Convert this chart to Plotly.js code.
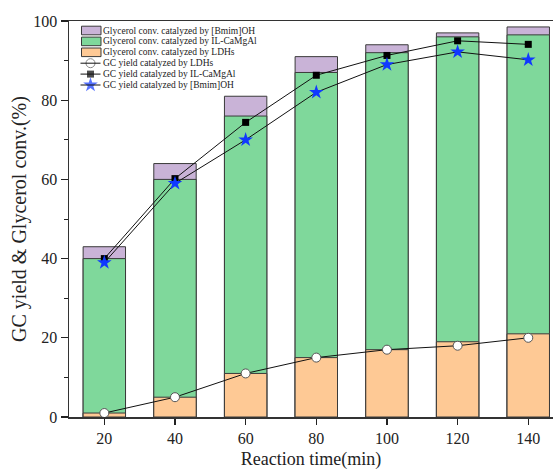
<!DOCTYPE html>
<html>
<head>
<meta charset="utf-8">
<script src="https://cdn.plot.ly/plotly-3.0.1.min.js"></script>
<style>html,body{margin:0;padding:0;background:#fff;}#chart{width:553px;height:470px;}</style>
</head>
<body>
<div id="chart"></div>
<script>
// ---- data ----
var times = [20, 40, 60, 80, 100, 120, 140];
var convBmim = [43, 64, 81, 91, 94, 97, 98.5];
var convIL = [40, 60, 76, 87, 92, 96, 96.5];
var convLDH = [1, 5, 11, 15, 17, 19, 21];
var yieldLDH = [1, 5, 11, 15, 17, 18, 20];
var yieldIL = [40, 60.2, 74.4, 86.3, 91.3, 95, 94.1];
var yieldBmim = [39, 59, 70, 82, 89, 92.2, 90.2];
var xTickVals = [20, 40, 60, 80, 100, 120, 140];
var yTickVals = [0, 20, 40, 60, 80, 100];
var legendLabels = [
  "Glycerol conv. catalyzed by [Bmim]OH",
  "Glycerol conv. catalyzed by IL-CaMgAl",
  "Glycerol conv. catalyzed by LDHs",
  "GC yield catalyzed by LDHs",
  "GC yield catalyzed by IL-CaMgAl",
  "GC yield catalyzed by [Bmim]OH"
];

var cPurple = "#c9b3d7", cGreen = "#7fd89b", cOrange = "#fec995", cStar = "#1038ff";
var barLine = {color: "#3a3a3a", width: 1};
var FONT = "Liberation Serif, Times New Roman, serif";

function bar(y, color) {
  return {type: "bar", x: times, y: y, width: 12, marker: {color: color, line: barLine},
          showlegend: false, hoverinfo: "skip"};
}
function line(y, marker) {
  return {type: "scatter", mode: "lines+markers", x: times, y: y,
          line: {color: "#111", width: 1}, marker: marker, showlegend: false, cliponaxis: false};
}

var mCircle = {symbol: "circle", size: 9, color: "#fff", line: {color: "#555", width: 1}};
var mSquare = {symbol: "square", size: 7, color: "#000", line: {width: 0}};
var mStar = {symbol: "star", size: 11, color: cStar, line: {width: 0}};

// plot area geometry (pixels) for the hand-built legend
var L = 69, T = 21, W = 553 - 69, H = 417 - 21;
function px(x) { return (x - L) / W; }
function py(y) { return (417 - y) / H; }

var rowsY = [30.5, 41.4, 52.3, 63.2, 74.1, 85];
var shapes = [];
var annotations = [];
[cPurple, cGreen, cOrange].forEach(function (c, i) {
  shapes.push({type: "rect", xref: "paper", yref: "paper",
    x0: px(81.5), x1: px(101), y0: py(rowsY[i] - 4.3), y1: py(rowsY[i] + 4.3),
    fillcolor: c, line: {color: "#3a3a3a", width: 1}});
});
for (var i = 3; i < 6; i++) {
  shapes.push({type: "line", xref: "paper", yref: "paper",
    x0: px(80.5), x1: px(100.5), y0: py(rowsY[i]), y1: py(rowsY[i]),
    line: {color: "#111", width: 1}});
}
legendLabels.forEach(function (t, i) {
  annotations.push({xref: "paper", yref: "paper", x: px(102), y: py(rowsY[i]),
    xanchor: "left", yanchor: "middle", showarrow: false, text: t, borderpad: 0,
    font: {family: FONT, size: 9.5, color: "#222"}});
});

var legendMarks = {type: "scatter", mode: "markers", xaxis: "x2", yaxis: "y2",
  x: [px(90.5), px(90.5), px(90.5)], y: [py(rowsY[3]), py(rowsY[4]), py(rowsY[5])],
  marker: {symbol: ["circle", "square", "star"], size: [9, 7, 11],
           color: ["#fff", "#000", cStar], line: {color: ["#555", "#000", cStar], width: [1, 0, 0]}},
  showlegend: false, hoverinfo: "skip"};

var data = [
  bar(convBmim, cPurple), bar(convIL, cGreen), bar(convLDH, cOrange),
  line(yieldLDH, mCircle), line(yieldIL, mSquare), line(yieldBmim, mStar),
  legendMarks
];

var layout = {
  width: 553, height: 470,
  margin: {l: L, r: 0, t: T, b: 470 - 417},
  paper_bgcolor: "#fff", plot_bgcolor: "#fff",
  barmode: "overlay", showlegend: false,
  font: {family: FONT, color: "#222"},
  xaxis: {range: [10, 147], tickvals: xTickVals, ticks: "outside", ticklen: 6, tickwidth: 1.2,
    tickcolor: "#222", showline: true, linecolor: "#333", linewidth: 1.5, mirror: true,
    showgrid: false, zeroline: false, tickfont: {family: FONT, size: 16, color: "#222"},
    title: {text: "Reaction time(min)", font: {family: FONT, size: 18, color: "#222"}, standoff: 11}},
  yaxis: {range: [0, 100], tickvals: yTickVals, ticks: "outside", ticklen: 7, tickwidth: 1.2,
    tickcolor: "#222", showline: true, linecolor: "#333", linewidth: 1.5,
    showgrid: false, zeroline: false, tickfont: {family: FONT, size: 16, color: "#222"},
    minor: {dtick: 10, ticks: "outside", ticklen: 4, tickcolor: "#222", tickwidth: 1, showgrid: false},
    title: {text: "GC yield & Glycerol conv.(%)", font: {family: FONT, size: 20, color: "#222"}, standoff: 1}},
  xaxis2: {overlaying: "x", range: [0, 1], visible: false, fixedrange: true},
  yaxis2: {overlaying: "y", range: [0, 1], visible: false, fixedrange: true},
  shapes: shapes, annotations: annotations
};

Plotly.newPlot("chart", data, layout, {displayModeBar: false, staticPlot: true});
</script>
</body>
</html>
